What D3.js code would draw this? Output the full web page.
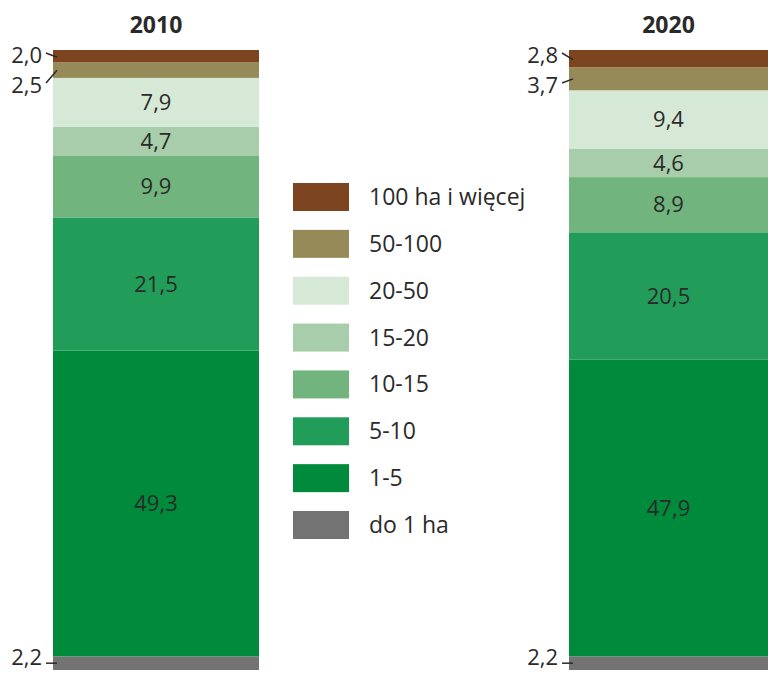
<!DOCTYPE html>
<html><head><meta charset="utf-8">
<script src="https://cdn.jsdelivr.net/npm/d3@7"></script>
<style>
body{margin:0;background:#fff;}
svg{display:block;font-family:"Open Sans","Noto Sans",sans-serif;}
</style></head>
<body>
<svg id="c" width="768" height="673"></svg>
<script>
const years = ["2010", "2020"];
const categories = ["do 1 ha", "1-5", "5-10", "10-15", "15-20", "20-50", "50-100", "100 ha i więcej"];
const values2010 = [2.2, 49.3, 21.5, 9.9, 4.7, 7.9, 2.5, 2.0];
const values2020 = [2.2, 47.9, 20.5, 8.9, 4.6, 9.4, 3.7, 2.8];
const colors = ["#737373", "#008a3c", "#219d59", "#71b47e", "#a7cdaa", "#d6e9d6", "#958a58", "#7c4520"];
const outsideCats = ["do 1 ha", "50-100", "100 ha i więcej"];

const series = {"2010": values2010, "2020": values2020};
const svg = d3.select("#c");
const y = d3.scaleLinear().domain([0, 100]).range([670, 50]);
const xLeft = d3.scaleOrdinal().domain(years).range([53, 569]);
const barW = d3.scaleOrdinal().domain(years).range([206, 199]);
const color = d3.scaleOrdinal().domain(categories).range(colors);
const textCol = "#2a2a2a";
const fmt = v => d3.format(".1f")(v).replace(".", ",");

const rows = years.map(yr => {
  const o = {year: yr};
  categories.forEach((c, i) => o[c] = series[yr][i]);
  return o;
});
const stack = d3.stack().keys(categories)(rows);

stack.forEach(layer => {
  layer.forEach(d => {
    const yr = d.data.year;
    svg.append("rect")
      .attr("x", xLeft(yr)).attr("width", barW(yr))
      .attr("y", y(d[1])).attr("height", y(d[0]) - y(d[1]))
      .attr("fill", color(layer.key));
  });
});

// inside labels
stack.forEach(layer => {
  if (outsideCats.includes(layer.key)) return;
  layer.forEach(d => {
    const yr = d.data.year;
    svg.append("text")
      .attr("x", xLeft(yr) + barW(yr) / 2)
      .attr("y", (y(d[0]) + y(d[1])) / 2)
      .attr("dy", "0.35em")
      .attr("text-anchor", "middle")
      .attr("font-size", 22).attr("fill", textCol)
      .text(fmt(d.data[layer.key]));
  });
});

// outside labels with leader lines
years.forEach(yr => {
  const x0 = xLeft(yr);
  const vals = series[yr];
  const st = stack.map(l => l.find(d => d.data.year === yr));
  const mid = s => (y(s[0]) + y(s[1])) / 2;
  const lab = (ty, v) => svg.append("text").attr("x", x0 - 11).attr("y", ty).attr("dy", "0.35em")
    .attr("text-anchor", "end").attr("font-size", 22).attr("fill", textCol).text(fmt(v));
  const line = (x1, y1, x2, y2) => svg.append("line").attr("x1", x1).attr("y1", y1)
    .attr("x2", x2).attr("y2", y2).attr("stroke", textCol).attr("stroke-width", 1.5);
  // bottom: do 1 ha
  const bm = mid(st[0]);
  line(x0 - 7, bm, x0 + 4, bm);
  lab(bm - 6, vals[0]);
  // top: 100 ha i więcej
  line(x0 - 7, 53, x0 + 4, mid(st[7]) + 1);
  lab(55, vals[7]);
  // 50-100
  line(x0 - 7, 83, x0 + 4, mid(st[6]));
  lab(85, vals[6]);
});

// titles
years.forEach(yr => {
  svg.append("text").attr("x", xLeft(yr) + barW(yr) / 2).attr("y", 33)
    .attr("text-anchor", "middle").attr("font-size", 23).attr("font-weight", "bold")
    .attr("fill", textCol).text(yr);
});

// legend
const legendOrder = categories.slice().reverse();
const ly = d3.scalePoint().domain(legendOrder).range([183, 511]);
const lg = svg.append("g");
legendOrder.forEach(c => {
  lg.append("rect").attr("x", 293).attr("y", ly(c)).attr("width", 56).attr("height", 28)
    .attr("fill", color(c));
  lg.append("text").attr("x", 369).attr("y", ly(c) + 14).attr("dy", "0.35em")
    .attr("font-size", 23).attr("fill", textCol).text(c);
});
</script>
</body></html>
